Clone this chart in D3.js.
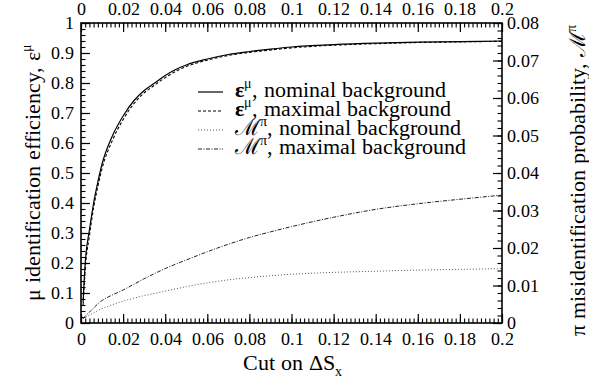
<!DOCTYPE html>
<html>
<head>
<meta charset="utf-8">
<script src="https://cdn.jsdelivr.net/npm/d3@7"></script>
<style>
  @font-face { font-family: "PlotSerif"; src: local("Liberation Serif"), local("LiberationSerif"), local("LiberationSerif-Regular"), local("Tinos"), local("Times New Roman"); font-weight: normal; }
  @font-face { font-family: "PlotSerif"; src: local("Liberation Serif Bold"), local("LiberationSerif-Bold"), local("Tinos Bold"), local("Times New Roman Bold"); font-weight: bold; }
  html, body { margin: 0; padding: 0; background: #fff; }
  svg { display: block; }
</style>
</head>
<body>
<svg id="chart" width="589" height="388"></svg>
<script>
// Cut on ΔS_x
const cutValues = [0.001, 0.002, 0.004, 0.006, 0.008, 0.010, 0.015, 0.020, 0.025, 0.030, 0.035, 0.040, 0.045, 0.050,
                   0.060, 0.070, 0.080, 0.090, 0.100, 0.120, 0.140, 0.160, 0.180, 0.200];
// μ identification efficiency
const effNominal = [0.07, 0.20, 0.31, 0.40, 0.47, 0.53, 0.625, 0.69, 0.74, 0.775, 0.80, 0.825, 0.845, 0.86,
                    0.88, 0.895, 0.905, 0.913, 0.92, 0.928, 0.933, 0.936, 0.938, 0.94];
const effMaximal = [0.06, 0.18, 0.29, 0.385, 0.455, 0.515, 0.61, 0.678, 0.73, 0.767, 0.793, 0.818, 0.839, 0.855,
                    0.876, 0.892, 0.902, 0.91, 0.917, 0.926, 0.931, 0.935, 0.937, 0.939];
// π misidentification probability
const misNominal = [0.0012, 0.0015, 0.0021, 0.0027, 0.0033, 0.0038, 0.0049, 0.0058, 0.0066, 0.0073, 0.0079, 0.0085, 0.0091, 0.0097,
                    0.0107, 0.0115, 0.0121, 0.0126, 0.0130, 0.0135, 0.0138, 0.0141, 0.0143, 0.0145];
const misMaximal = [0.0012, 0.0018, 0.0029, 0.0040, 0.0051, 0.0060, 0.0075, 0.0088, 0.0103, 0.0118, 0.0132, 0.0145, 0.0157, 0.0168,
                    0.0190, 0.0210, 0.0228, 0.0243, 0.0257, 0.0282, 0.0303, 0.0318, 0.0330, 0.0341];

const xTickValues = [0, 0.02, 0.04, 0.06, 0.08, 0.1, 0.12, 0.14, 0.16, 0.18, 0.2];
const xTickLabels = ["0", "0.02", "0.04", "0.06", "0.08", "0.1", "0.12", "0.14", "0.16", "0.18", "0.2"];
const yLeftTickValues = [0, 0.1, 0.2, 0.3, 0.4, 0.5, 0.6, 0.7, 0.8, 0.9, 1];
const yLeftTickLabels = ["0", "0.1", "0.2", "0.3", "0.4", "0.5", "0.6", "0.7", "0.8", "0.9", "1"];
const yRightTickValues = [0, 0.01, 0.02, 0.03, 0.04, 0.05, 0.06, 0.07, 0.08];
const yRightTickLabels = ["0", "0.01", "0.02", "0.03", "0.04", "0.05", "0.06", "0.07", "0.08"];

const FONT = "PlotSerif, 'Liberation Serif', Tinos, 'Times New Roman'";

const svg = d3.select("#chart");
const L = 81, R = 502, T = 23, B = 323;

const x = d3.scaleLinear().domain([0, 0.2]).range([L, R]);
const yL = d3.scaleLinear().domain([0, 1]).range([B, T]);
const yR = d3.scaleLinear().domain([0, 0.08]).range([B, T]);

// minor tick positions
const minorX = d3.range(0, 101).map(i => i * 0.002);
const minorYL = d3.range(0, 51).map(i => i * 0.02);
const minorYR = d3.range(0, 41).map(i => i * 0.002);

function styleAxis(g) {
  g.attr("font-family", null).attr("font-size", null);
  g.select(".domain").remove();
  g.selectAll(".tick line").attr("stroke", "#000").attr("stroke-width", 1.2);
  g.selectAll(".tick text").style("font-family", FONT).style("font-size", "18px").attr("fill", "#000");
}

// minor ticks carry no label, so draw them as plain lines
function minorTicks(g, axis) {
  g.call(axis.tickFormat(""));
  g.select(".domain").remove();
  g.selectAll(".tick text").remove();
  g.selectAll(".tick line").attr("stroke", "#000").attr("stroke-width", 1.1);
}

const lab = (vals, labels) => d => labels[vals.indexOf(d)];

// bottom axis
svg.append("g").attr("transform", `translate(0,${B})`)
  .call(minorTicks, d3.axisBottom(x).tickValues(minorX).tickSize(-4.5));
svg.append("g").attr("transform", `translate(0,${B})`)
  .call(d3.axisBottom(x).tickValues(xTickValues).tickSize(-9).tickPadding(9).tickFormat(lab(xTickValues, xTickLabels)))
  .call(styleAxis);

// top axis
svg.append("g").attr("transform", `translate(0,${T})`)
  .call(minorTicks, d3.axisTop(x).tickValues(minorX).tickSize(-4.5));
svg.append("g").attr("transform", `translate(0,${T})`)
  .call(d3.axisTop(x).tickValues(xTickValues).tickSize(-9).tickPadding(8).tickFormat(lab(xTickValues, xTickLabels)))
  .call(styleAxis);

// left axis
svg.append("g").attr("transform", `translate(${L},0)`)
  .call(minorTicks, d3.axisLeft(yL).tickValues(minorYL).tickSize(-4.5));
svg.append("g").attr("transform", `translate(${L},0)`)
  .call(d3.axisLeft(yL).tickValues(yLeftTickValues).tickSize(-9).tickPadding(7).tickFormat(lab(yLeftTickValues, yLeftTickLabels)))
  .call(styleAxis);

// right axis
svg.append("g").attr("transform", `translate(${R},0)`)
  .call(minorTicks, d3.axisRight(yR).tickValues(minorYR).tickSize(-4.5));
svg.append("g").attr("transform", `translate(${R},0)`)
  .call(d3.axisRight(yR).tickValues(yRightTickValues).tickSize(-9).tickPadding(5).tickFormat(lab(yRightTickValues, yRightTickLabels)))
  .call(styleAxis);

// frame
svg.append("rect").attr("x", L).attr("y", T).attr("width", R - L).attr("height", B - T)
  .attr("fill", "none").attr("stroke", "#000").attr("stroke-width", 1.6);

// curves
const series = [
  { vals: effNominal, y: yL, dash: null, color: "#000", width: 1.2 },
  { vals: effMaximal, y: yL, dash: "3,2", color: "#000", width: 1.1 },
  { vals: misNominal, y: yR, dash: "1,2", color: "#555", width: 1 },
  { vals: misMaximal, y: yR, dash: "4,1.5,1,1.5", color: "#222", width: 1 }
];
series.forEach(s => {
  const line = d3.line().x((d, i) => x(cutValues[i])).y(d => s.y(d)).curve(d3.curveMonotoneX);
  svg.append("path").datum(s.vals).attr("d", line)
    .attr("fill", "none").attr("stroke", s.color).attr("stroke-width", s.width)
    .attr("stroke-dasharray", s.dash);
});

function txt(sel) {
  return sel.style("font-family", FONT).attr("fill", "#000");
}

// legend
const legendItems = [
  { sym: "ε", bold: true, sup: "μ", text: ", nominal background" },
  { sym: "ε", bold: true, sup: "μ", text: ", maximal background" },
  { sym: "ℳ", bold: false, sup: "π", text: ", nominal background" },
  { sym: "ℳ", bold: false, sup: "π", text: ", maximal background" }
];
legendItems.forEach((it, i) => {
  const yb = 97 + i * 19;
  const s = series[i];
  svg.append("line").attr("x1", 198).attr("x2", 223).attr("y1", yb - 5).attr("y2", yb - 5)
    .attr("stroke", s.color).attr("stroke-width", s.width).attr("stroke-dasharray", s.dash);
  const t = txt(svg.append("text")).attr("x", 235).attr("y", yb).style("font-size", "22px");
  t.append("tspan").text(it.sym).style("font-weight", it.bold ? "bold" : "normal");
  t.append("tspan").text(it.sup).attr("dy", -9).style("font-size", "14px");
  t.append("tspan").text(it.text).attr("dy", 9);
});

// axis titles
const xt = txt(svg.append("text")).attr("x", 292).attr("y", 370).attr("text-anchor", "middle").style("font-size", "22px");
xt.append("tspan").text("Cut on ΔS");
xt.append("tspan").text("x").attr("dy", 6).style("font-size", "14px");

const ytl = txt(svg.append("text")).attr("transform", "translate(40,172) rotate(-90)")
  .attr("text-anchor", "middle").style("font-size", "22px");
ytl.append("tspan").text("μ identification efficiency, ε");
ytl.append("tspan").text("μ").attr("dy", -9).style("font-size", "14px");

const ytr = txt(svg.append("text")).attr("transform", "translate(585,180) rotate(-90)")
  .attr("text-anchor", "middle").style("font-size", "22px");
ytr.append("tspan").text("π misidentification probability, ");
ytr.append("tspan").text("ℳ");
ytr.append("tspan").text("π").attr("dy", -9).style("font-size", "14px");
</script>
</body>
</html>
